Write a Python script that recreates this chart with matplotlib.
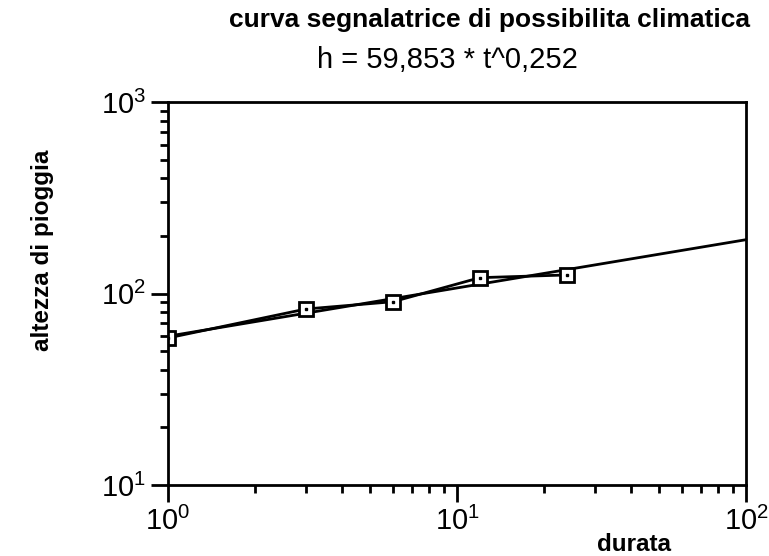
import math
import matplotlib
matplotlib.use('Agg')
import matplotlib.pyplot as plt
from matplotlib.ticker import LogLocator, FuncFormatter, NullFormatter

plt.rcParams['font.family'] = ['Liberation Sans', 'DejaVu Sans']
plt.rcParams['mathtext.fontset'] = 'custom'
plt.rcParams['mathtext.rm'] = 'Liberation Sans'

# measured data
durata = [1, 3, 6, 12, 24]
altezza = [58.6, 83.0, 90.6, 121.0, 125.0]

# fitted curve h = 59,853 * t^0,252 (end points)
fit_t = [1, 100]
fit_h = [59.853, 191.0]

title = 'curva segnalatrice di possibilita climatica'
subtitle = 'h = 59,853 * t^0,252'

fig = plt.figure(figsize=(7.69, 5.56), dpi=100)
ax = fig.add_axes([0.2185, 0.1277, 0.7516, 0.6888])

ax.plot(fit_t, fit_h, color='black', lw=2)
ax.plot(durata, altezza, color='black', lw=2, marker='s', ms=10,
        mfc='white', mec='black', mew=2)
ax.plot(durata, altezza, ls='none', marker='s', ms=2, color='black')

ax.set_xscale('log')
ax.set_yscale('log')
ax.set_xlim(1, 100)
ax.set_ylim(10, 1000)

ax.spines['top'].set_visible(False)
ax.spines['right'].set_visible(False)
for s in ['left', 'bottom']:
    ax.spines[s].set_linewidth(2)
# top and right frame lines without ticks
ax.axhline(1000, color='black', lw=2, clip_on=False)
ax.axvline(100, color='black', lw=2, clip_on=False)

fmt = FuncFormatter(lambda v, p: r'$\mathregular{10^{%d}}$' % round(math.log10(v)))
ax.xaxis.set_major_locator(LogLocator(base=10, numticks=10))
ax.yaxis.set_major_locator(LogLocator(base=10, numticks=10))
ax.xaxis.set_minor_locator(LogLocator(base=10, subs=range(2, 10), numticks=10))
ax.yaxis.set_minor_locator(LogLocator(base=10, subs=range(2, 10), numticks=10))
ax.xaxis.set_major_formatter(fmt)
ax.yaxis.set_major_formatter(fmt)
ax.xaxis.set_minor_formatter(NullFormatter())
ax.yaxis.set_minor_formatter(NullFormatter())
ax.tick_params(which='major', direction='out', length=12, width=2, labelsize=21, pad=4)
ax.tick_params(which='minor', direction='out', length=6, width=2)

ax.set_ylabel('altezza di pioggia', fontsize=17.5, fontweight='bold')
ax.yaxis.set_label_coords(-0.197, 0.614)
ax.set_xlabel('durata', fontsize=17.5, fontweight='bold')
ax.xaxis.set_label_coords(0.806, -0.125)

fig.text(0.637, 0.964, title, ha='center', va='center', fontsize=19, fontweight='bold')
fig.text(0.582, 0.892, subtitle, ha='center', va='center', fontsize=21)

fig.savefig('out.png', dpi=100)
